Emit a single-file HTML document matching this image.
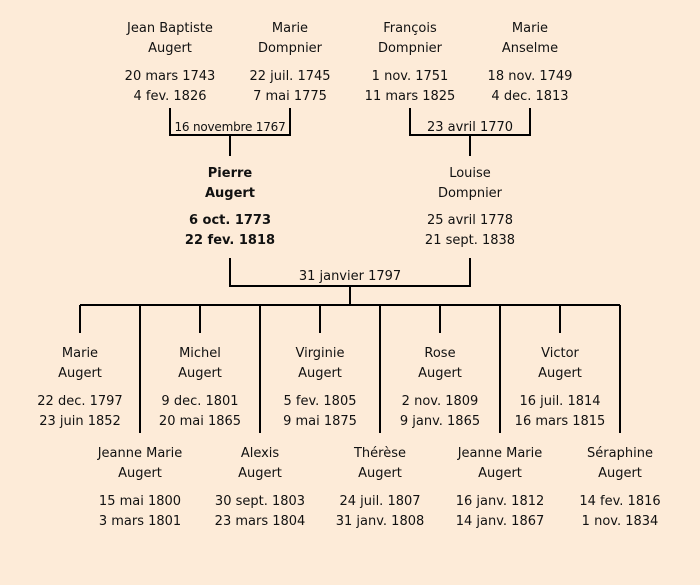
<!DOCTYPE html>
<html><head><meta charset="utf-8"><style>
html,body{margin:0;padding:0}
body{width:700px;height:585px;background:#fdebd8;position:relative;overflow:hidden;font-family:"DejaVu Sans","Liberation Sans",sans-serif;font-size:13px;color:#111}
.t{position:absolute;width:160px;margin-left:-80px;text-align:center;line-height:20px;white-space:nowrap}
.b{font-weight:bold}
.s{font-size:12px;letter-spacing:-0.2px}
svg{position:absolute;left:0;top:0}
</style></head><body>
<svg width="700" height="585" stroke="#000" stroke-width="2" fill="none">
<path d="M170 108V135H290V108M230 135V156"/>
<path d="M410 108V135H530V108M470 135V156"/>
<path d="M230 258V286H470V258M350 286V305"/>
<path d="M80 305H620"/>
<path d="M80 305V333M200 305V333M320 305V333M440 305V333M560 305V333"/>
<path d="M140 305V433M260 305V433M380 305V433M500 305V433M620 305V433"/>
</svg>
<div class="t" style="left:170px;top:19px">Jean Baptiste<br>Augert</div>
<div class="t" style="left:170px;top:67px">20 mars 1743<br>4 fev. 1826</div>
<div class="t" style="left:290px;top:19px">Marie<br>Dompnier</div>
<div class="t" style="left:290px;top:67px">22 juil. 1745<br>7 mai 1775</div>
<div class="t" style="left:410px;top:19px">François<br>Dompnier</div>
<div class="t" style="left:410px;top:67px">1 nov. 1751<br>11 mars 1825</div>
<div class="t" style="left:530px;top:19px">Marie<br>Anselme</div>
<div class="t" style="left:530px;top:67px">18 nov. 1749<br>4 dec. 1813</div>
<div class="t s" style="left:230px;top:117px">16 novembre 1767</div>
<div class="t" style="left:470px;top:118px">23 avril 1770</div>
<div class="t b" style="left:230px;top:164px">Pierre<br>Augert</div>
<div class="t b" style="left:230px;top:211px">6 oct. 1773<br>22 fev. 1818</div>
<div class="t" style="left:470px;top:164px">Louise<br>Dompnier</div>
<div class="t" style="left:470px;top:211px">25 avril 1778<br>21 sept. 1838</div>
<div class="t" style="left:350px;top:267px">31 janvier 1797</div>

<div class="t" style="left:80px;top:344px">Marie<br>Augert</div>
<div class="t" style="left:80px;top:392px">22 dec. 1797<br>23 juin 1852</div>
<div class="t" style="left:200px;top:344px">Michel<br>Augert</div>
<div class="t" style="left:200px;top:392px">9 dec. 1801<br>20 mai 1865</div>
<div class="t" style="left:320px;top:344px">Virginie<br>Augert</div>
<div class="t" style="left:320px;top:392px">5 fev. 1805<br>9 mai 1875</div>
<div class="t" style="left:440px;top:344px">Rose<br>Augert</div>
<div class="t" style="left:440px;top:392px">2 nov. 1809<br>9 janv. 1865</div>
<div class="t" style="left:560px;top:344px">Victor<br>Augert</div>
<div class="t" style="left:560px;top:392px">16 juil. 1814<br>16 mars 1815</div>

<div class="t" style="left:140px;top:444px">Jeanne Marie<br>Augert</div>
<div class="t" style="left:140px;top:492px">15 mai 1800<br>3 mars 1801</div>
<div class="t" style="left:260px;top:444px">Alexis<br>Augert</div>
<div class="t" style="left:260px;top:492px">30 sept. 1803<br>23 mars 1804</div>
<div class="t" style="left:380px;top:444px">Thérèse<br>Augert</div>
<div class="t" style="left:380px;top:492px">24 juil. 1807<br>31 janv. 1808</div>
<div class="t" style="left:500px;top:444px">Jeanne Marie<br>Augert</div>
<div class="t" style="left:500px;top:492px">16 janv. 1812<br>14 janv. 1867</div>
<div class="t" style="left:620px;top:444px">Séraphine<br>Augert</div>
<div class="t" style="left:620px;top:492px">14 fev. 1816<br>1 nov. 1834</div>
</body></html>
